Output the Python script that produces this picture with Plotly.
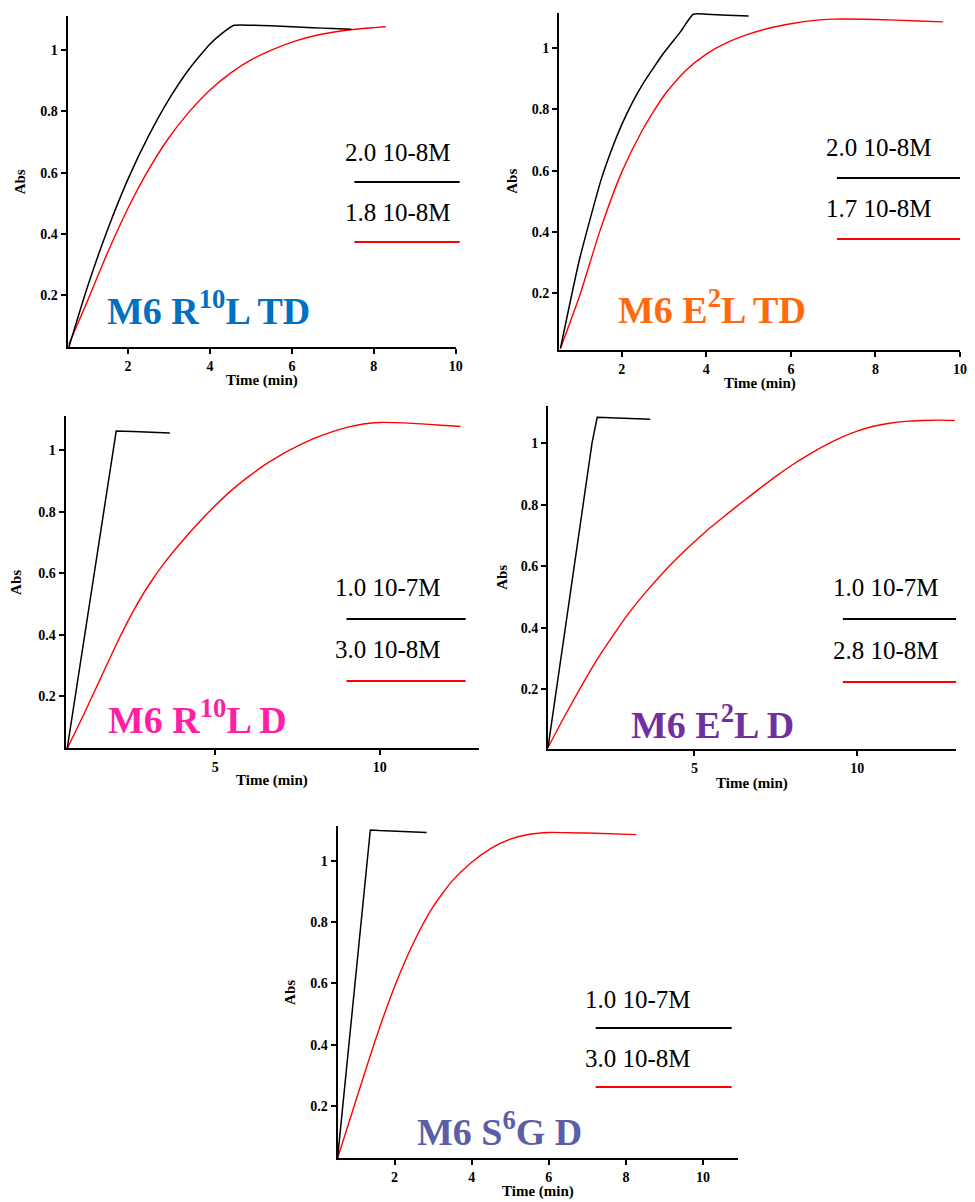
import plotly.graph_objects as go

W, H = 975, 1202

# ---------------- data ----------------
# Panel 1: M6 R10L TD
p1_black_t = [0.55, 1.0, 1.5, 2.0, 2.5, 3.0, 3.5, 4.0, 4.3, 4.57, 5.0, 5.5, 6.0, 6.5, 7.0, 7.45]
p1_black_abs = [0.03, 0.225, 0.415, 0.58, 0.72, 0.84, 0.94, 1.02, 1.055, 1.08, 1.081, 1.079, 1.076, 1.073, 1.070, 1.068]
p1_red_t = [0.55, 1.0, 1.5, 2.0, 2.5, 3.0, 3.5, 4.0, 4.5, 5.0, 5.5, 6.0, 6.5, 7.0, 7.5, 8.0, 8.29]
p1_red_abs = [0.04, 0.18, 0.34, 0.485, 0.61, 0.715, 0.80, 0.87, 0.925, 0.968, 1.0, 1.026, 1.045, 1.058, 1.067, 1.073, 1.076]

# Panel 2: M6 E2L TD
p2_black_t = [0.55, 1.0, 1.5, 1.75, 2.0, 2.25, 2.5, 2.75, 3.0, 3.4, 3.69, 4.0, 4.5, 5.0]
p2_black_abs = [0.02, 0.31, 0.565, 0.665, 0.75, 0.822, 0.883, 0.935, 0.985, 1.055, 1.11, 1.11, 1.107, 1.104]
p2_red_t = [0.55, 1.0, 1.5, 2.0, 2.5, 3.0, 3.5, 4.0, 4.5, 5.0, 5.5, 6.0, 6.5, 7.0, 8.0, 9.0, 9.6]
p2_red_abs = [0.02, 0.19, 0.41, 0.595, 0.735, 0.845, 0.925, 0.98, 1.018, 1.045, 1.065, 1.079, 1.089, 1.094, 1.093, 1.088, 1.085]

# Panel 3: M6 R10L D
p3_black_t = [0.5, 1.93, 1.99, 2.5, 3.0, 3.62]
p3_black_abs = [0.03, 1.02, 1.062, 1.061, 1.058, 1.056]
p3_red_t = [0.5, 1.0, 1.5, 2.0, 2.5, 3.0, 3.5, 4.0, 4.5, 5.0, 5.5, 6.0, 6.5, 7.0, 7.5, 8.0, 8.5,
            9.0, 9.5, 10.0, 11.0, 12.0, 12.45]
p3_red_abs = [0.03, 0.14, 0.255, 0.37, 0.475, 0.565, 0.64, 0.705, 0.765, 0.82, 0.87, 0.913, 0.952,
              0.985, 1.013, 1.038, 1.058, 1.074, 1.085, 1.09, 1.087, 1.08, 1.077]

# Panel 4: M6 E2L D
p4_black_t = [0.5, 1.85, 2.01, 2.5, 3.0, 3.64]
p4_black_abs = [0.01, 1.0, 1.085, 1.083, 1.081, 1.079]
p4_red_t = [0.5, 1.0, 1.5, 2.0, 2.5, 3.0, 3.5, 4.0, 4.5, 5.0, 5.5, 6.0, 6.5, 7.0, 7.5, 8.0, 8.5,
            9.0, 9.5, 10.0, 10.5, 11.0, 11.5, 12.0, 12.5, 13.0]
p4_red_abs = [0.01, 0.11, 0.205, 0.295, 0.375, 0.45, 0.515, 0.575, 0.63, 0.68, 0.727, 0.77, 0.812,
              0.853, 0.893, 0.93, 0.963, 0.993, 1.019, 1.04, 1.056, 1.066, 1.072, 1.075, 1.076, 1.075]

# Panel 5: M6 S6G D
p5_black_t = [0.52, 1.37, 1.6, 2.0, 2.4, 2.83]
p5_black_abs = [0.03, 1.10, 1.098, 1.096, 1.094, 1.092]
p5_red_t = [0.52, 1.0, 1.5, 2.0, 2.5, 3.0, 3.5, 4.0, 4.5, 5.0, 5.5, 6.0, 7.0, 8.27]
p5_red_abs = [0.03, 0.22, 0.415, 0.59, 0.735, 0.85, 0.935, 0.995, 1.04, 1.07, 1.086, 1.092, 1.09, 1.085]

titles = ["M6 R<sup>10</sup>L TD", "M6 E<sup>2</sup>L TD", "M6 R<sup>10</sup>L D",
          "M6 E<sup>2</sup>L D", "M6 S<sup>6</sup>G D"]
title_colors = ["#0070C0", "#FF6A0E", "#FF1FA5", "#7030A0", "#5B5EA6"]
black_labels = ["2.0 10-8M", "2.0 10-8M", "1.0 10-7M", "1.0 10-7M", "1.0 10-7M"]
red_labels = ["1.8 10-8M", "1.7 10-8M", "3.0 10-8M", "2.8 10-8M", "3.0 10-8M"]
x_ticks_a = [2, 4, 6, 8, 10]
x_ticks_b = [5, 10]
y_ticks = [0.2, 0.4, 0.6, 0.8, 1]
y_ticktext = ["0.2", "0.4", "0.6", "0.8", "1"]
x_title = "Time (min)"
y_title = "Abs"

series = [
    (p1_black_t, p1_black_abs, p1_red_t, p1_red_abs, "spline"),
    (p2_black_t, p2_black_abs, p2_red_t, p2_red_abs, "spline"),
    (p3_black_t, p3_black_abs, p3_red_t, p3_red_abs, "linear"),
    (p4_black_t, p4_black_abs, p4_red_t, p4_red_abs, "linear"),
    (p5_black_t, p5_black_abs, p5_red_t, p5_red_abs, "linear"),
]

# ---------------- layout (pixel geometry) ----------------
panels = [
    dict(px=(68, 459), py=(16, 347), xr=(0.52, 10), yr=(0.032, 1.111), xt=x_ticks_a,
         leg_tx=345, leg_y=(152, 182, 212, 242), leg_lx=(357, 463),
         title_xy=(106, 308), xtitle_y=381, ytitle_x=21),
    dict(px=(563, 967), py=(13, 350), xr=(0.515, 10), yr=(0.015, 1.114), xt=x_ticks_a,
         leg_tx=830, leg_y=(147, 178, 208, 239), leg_lx=(843, 967),
         title_xy=(620, 307), xtitle_y=384, ytitle_x=516),
    dict(px=(66, 482), py=(416, 748), xr=(0.45, 13.0), yr=(0.032, 1.111), xt=x_ticks_b,
         leg_tx=335, leg_y=(587, 619, 649, 681), leg_lx=(349, 469),
         title_xy=(107, 717), xtitle_y=780, ytitle_x=16),
    dict(px=(552, 963), py=(406, 749), xr=(0.5, 13.04), yr=(0.005, 1.122), xt=x_ticks_b,
         leg_tx=837, leg_y=(587, 619, 650, 682), leg_lx=(849, 963),
         title_xy=(634, 722), xtitle_y=783, ytitle_x=505),
    dict(px=(340, 743), py=(826, 1158), xr=(0.52, 10.9), yr=(0.031, 1.113), xt=x_ticks_a,
         leg_tx=587, leg_y=(999, 1028, 1058, 1087), leg_lx=(600, 737),
         title_xy=(418, 1129), xtitle_y=1191, ytitle_x=292),
]


def fx(p):
    return p / W


def fy(p):
    return 1 - p / H


SERIF = "Liberation Serif"

fig = go.Figure()
annotations = []
shapes = []
layout_axes = {}

for i, (pan, (bt, by, rt, ry, bshape)) in enumerate(zip(panels, series)):
    n = i + 1
    xa = "x" if n == 1 else f"x{n}"
    ya = "y" if n == 1 else f"y{n}"
    fig.add_trace(go.Scatter(x=rt, y=ry, mode="lines", xaxis=xa, yaxis=ya,
                             line=dict(color="#FF0000", width=1.4, shape="spline", smoothing=0.6),
                             showlegend=False, hoverinfo="skip"))
    bl = dict(color="#000000", width=1.5, shape=bshape)
    if bshape == "spline":
        bl["smoothing"] = 0.5
    fig.add_trace(go.Scatter(x=bt, y=by, mode="lines", xaxis=xa, yaxis=ya, line=bl,
                             showlegend=False, hoverinfo="skip"))

    common = dict(showline=True, linecolor="black", linewidth=2, ticks="outside",
                  ticklen=5, tickwidth=1.5, tickcolor="black", showgrid=False,
                  zeroline=False, fixedrange=True,
                  tickfont=dict(family=SERIF, size=14, color="black", weight="bold"))
    layout_axes[f"xaxis{'' if n == 1 else n}"] = dict(
        domain=[fx(pan["px"][0]), fx(pan["px"][1])], range=list(pan["xr"]),
        tickvals=pan["xt"], anchor=ya, **common)
    layout_axes[f"yaxis{'' if n == 1 else n}"] = dict(
        domain=[fy(pan["py"][1]), fy(pan["py"][0])], range=list(pan["yr"]),
        tickvals=y_ticks, ticktext=y_ticktext, anchor=xa, **common)

    # axis titles
    annotations.append(dict(text=x_title, xref="paper", yref="paper",
                            x=fx((pan["px"][0] + pan["px"][1]) / 2), y=fy(pan["xtitle_y"]),
                            xanchor="center", yanchor="middle", showarrow=False,
                            font=dict(family=SERIF, size=15, color="black", weight="bold")))
    annotations.append(dict(text=y_title, xref="paper", yref="paper",
                            x=fx(pan["ytitle_x"]), y=fy((pan["py"][0] + pan["py"][1]) / 2),
                            xanchor="center", yanchor="middle", showarrow=False, textangle=-90,
                            font=dict(family=SERIF, size=15, color="black", weight="bold")))
    # legend texts and keys
    ly = pan["leg_y"]
    annotations.append(dict(text=black_labels[i], xref="paper", yref="paper",
                            x=fx(pan["leg_tx"]), y=fy(ly[0]), xanchor="left", yanchor="middle",
                            showarrow=False, font=dict(family=SERIF, size=25, color="black")))
    annotations.append(dict(text=red_labels[i], xref="paper", yref="paper",
                            x=fx(pan["leg_tx"]), y=fy(ly[2]), xanchor="left", yanchor="middle",
                            showarrow=False, font=dict(family=SERIF, size=25, color="black")))
    shapes.append(dict(type="line", xref="paper", yref="paper",
                       x0=fx(pan["leg_lx"][0]), x1=fx(pan["leg_lx"][1]), y0=fy(ly[1]), y1=fy(ly[1]),
                       line=dict(color="black", width=1.8)))
    shapes.append(dict(type="line", xref="paper", yref="paper",
                       x0=fx(pan["leg_lx"][0]), x1=fx(pan["leg_lx"][1]), y0=fy(ly[3]), y1=fy(ly[3]),
                       line=dict(color="#FF0000", width=1.8)))
    # panel title
    annotations.append(dict(text=titles[i], xref="paper", yref="paper",
                            x=fx(pan["title_xy"][0]), y=fy(pan["title_xy"][1]),
                            xanchor="left", yanchor="middle", showarrow=False,
                            font=dict(family=SERIF, size=38, color=title_colors[i], weight="bold")))

fig.update_layout(width=W, height=H, margin=dict(l=0, r=0, t=0, b=0),
                  paper_bgcolor="white", plot_bgcolor="white",
                  annotations=annotations, shapes=shapes, showlegend=False, **layout_axes)

fig.write_html("out.html", config={"displayModeBar": False})
